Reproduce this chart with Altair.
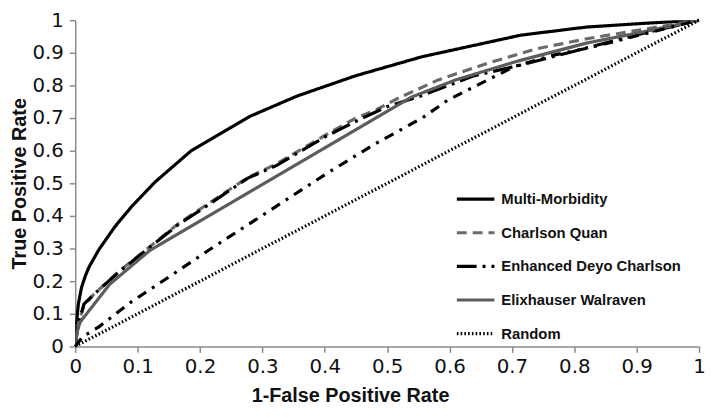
import altair as alt
import pandas as pd

series_names = ["Multi-Morbidity", "Charlson Quan", "Enhanced Deyo Charlson",
                "Elixhauser Walraven", "Random"]

mm_x = [0, 0.002, 0.005, 0.01, 0.016, 0.022, 0.038, 0.064, 0.09, 0.128, 0.186, 0.281, 0.355, 0.45, 0.556, 0.714, 0.82, 0.91, 1]
mm_y = [0, 0.07, 0.13, 0.18, 0.215, 0.243, 0.297, 0.368, 0.428, 0.504, 0.6, 0.706, 0.767, 0.83, 0.888, 0.954, 0.979, 0.99, 1]

cq_x = [0, 0.005, 0.014, 0.03, 0.07, 0.117, 0.165, 0.215, 0.276, 0.323, 0.403, 0.45, 0.482, 0.519, 0.582, 0.661, 0.741, 0.82, 0.899, 1]
cq_y = [0, 0.07, 0.125, 0.16, 0.23, 0.302, 0.376, 0.44, 0.517, 0.56, 0.65, 0.70, 0.725, 0.762, 0.817, 0.868, 0.913, 0.943, 0.968, 1]

ed_x = [0, 0.005, 0.014, 0.03, 0.07, 0.117, 0.165, 0.215, 0.276, 0.323, 0.403, 0.45, 0.5, 0.55, 0.64, 0.72, 0.8, 0.9, 1]
ed_y = [0, 0.07, 0.13, 0.16, 0.228, 0.3, 0.373, 0.436, 0.515, 0.555, 0.645, 0.69, 0.735, 0.765, 0.83, 0.865, 0.905, 0.955, 1]

ew_x = [0, 0.003, 0.008, 0.055, 0.12, 0.54, 0.61, 0.71, 0.82, 0.9, 1]
ew_y = [0, 0.045, 0.075, 0.19, 0.295, 0.765, 0.817, 0.875, 0.93, 0.96, 1]

rd_x = [0, 1]
rd_y = [0, 1]

# additional dash-dot curve drawn in the figure without a legend entry
ex_x = [0, 0.012, 0.038, 0.091, 0.144, 0.218, 0.297, 0.403, 0.48, 0.556, 0.598, 0.651, 0.704, 0.767, 0.83, 0.9, 1]
ex_y = [0, 0.03, 0.06, 0.138, 0.205, 0.3, 0.398, 0.53, 0.62, 0.70, 0.756, 0.807, 0.858, 0.893, 0.918, 0.952, 1]

ticks = [round(i * 0.1, 1) for i in range(11)]

rows = []
for name, xs, ys in zip(series_names, [mm_x, cq_x, ed_x, ew_x, rd_x], [mm_y, cq_y, ed_y, ew_y, rd_y]):
    for i, (a, b) in enumerate(zip(xs, ys)):
        rows.append({"series": name, "x": a, "y": b, "order": i})
df = pd.DataFrame(rows)
df_ex = pd.DataFrame({"x": ex_x, "y": ex_y, "order": list(range(len(ex_x)))})

xscale = alt.Scale(domain=[0, 1], nice=False)
yscale = alt.Scale(domain=[0, 1], nice=False)

axis_common = dict(
    values=ticks, format=".1~f", grid=False, labelOverlap=False,
    domainColor="#8a8a8a", domainWidth=1.5, tickColor="#8a8a8a", tickWidth=1.5, tickSize=6,
    labelFont="DejaVu Sans", labelFontSize=20, labelColor="#111111",
    titleFont="Liberation Sans", titleFontSize=20, titleFontWeight="bold", titleColor="#111111",
)

xaxis = alt.Axis(title="1-False Positive Rate", labelPadding=4,
                 titleX=278, titleY=56, titleAnchor="middle", titleBaseline="alphabetic",
                 labelFlush=False, **axis_common)
yaxis = alt.Axis(title="True Positive Rate", labelPadding=6,
                 titleX=-50, titleBaseline="alphabetic", **axis_common)

colors = ["#000000", "#6a6a6a", "#000000", "#5c5c5c", "#000000"]
dashes = [[1, 0], [10, 6], [20, 6, 3, 6], [1, 0], [1.6, 2.2]]
widths = [3.2, 3.2, 3.2, 2.6, 2]

legend = alt.Legend(
    title=None, orient="none", legendX=384, legendY=160,
    symbolType="stroke", symbolSize=1444, labelOffset=5,
    labelFont="Liberation Sans", labelFontSize=15, labelFontWeight="bold", labelColor="#111111",
    rowPadding=5, labelLimit=300,
)

main = alt.Chart(df).mark_line(clip=True).encode(
    x=alt.X("x:Q", scale=xscale, axis=xaxis),
    y=alt.Y("y:Q", scale=yscale, axis=yaxis),
    order="order:Q",
    detail="series:N",
    color=alt.Color("series:N", scale=alt.Scale(domain=series_names, range=colors), legend=legend),
    strokeDash=alt.StrokeDash("series:N", scale=alt.Scale(domain=series_names, range=dashes), legend=legend),
    strokeWidth=alt.StrokeWidth("series:N", scale=alt.Scale(domain=series_names, range=widths), legend=legend),
)

extra = alt.Chart(df_ex).mark_line(color="#000000", strokeWidth=3.2, strokeDash=[10, 7, 3, 7]).encode(
    x=alt.X("x:Q", scale=xscale, axis=xaxis),
    y=alt.Y("y:Q", scale=yscale, axis=yaxis),
    order="order:Q",
)

chart = alt.layer(main, extra).resolve_axis(x="shared", y="shared").properties(
    width=631, height=330,
    autosize=alt.AutoSizeParams(type="none"),
    padding={"left": 68, "top": 10, "right": 6, "bottom": 63},
).configure_view(stroke=None).configure_axis(labelOverlap=False)

chart.save("out.html", embed_options={"renderer": "svg", "actions": False})
